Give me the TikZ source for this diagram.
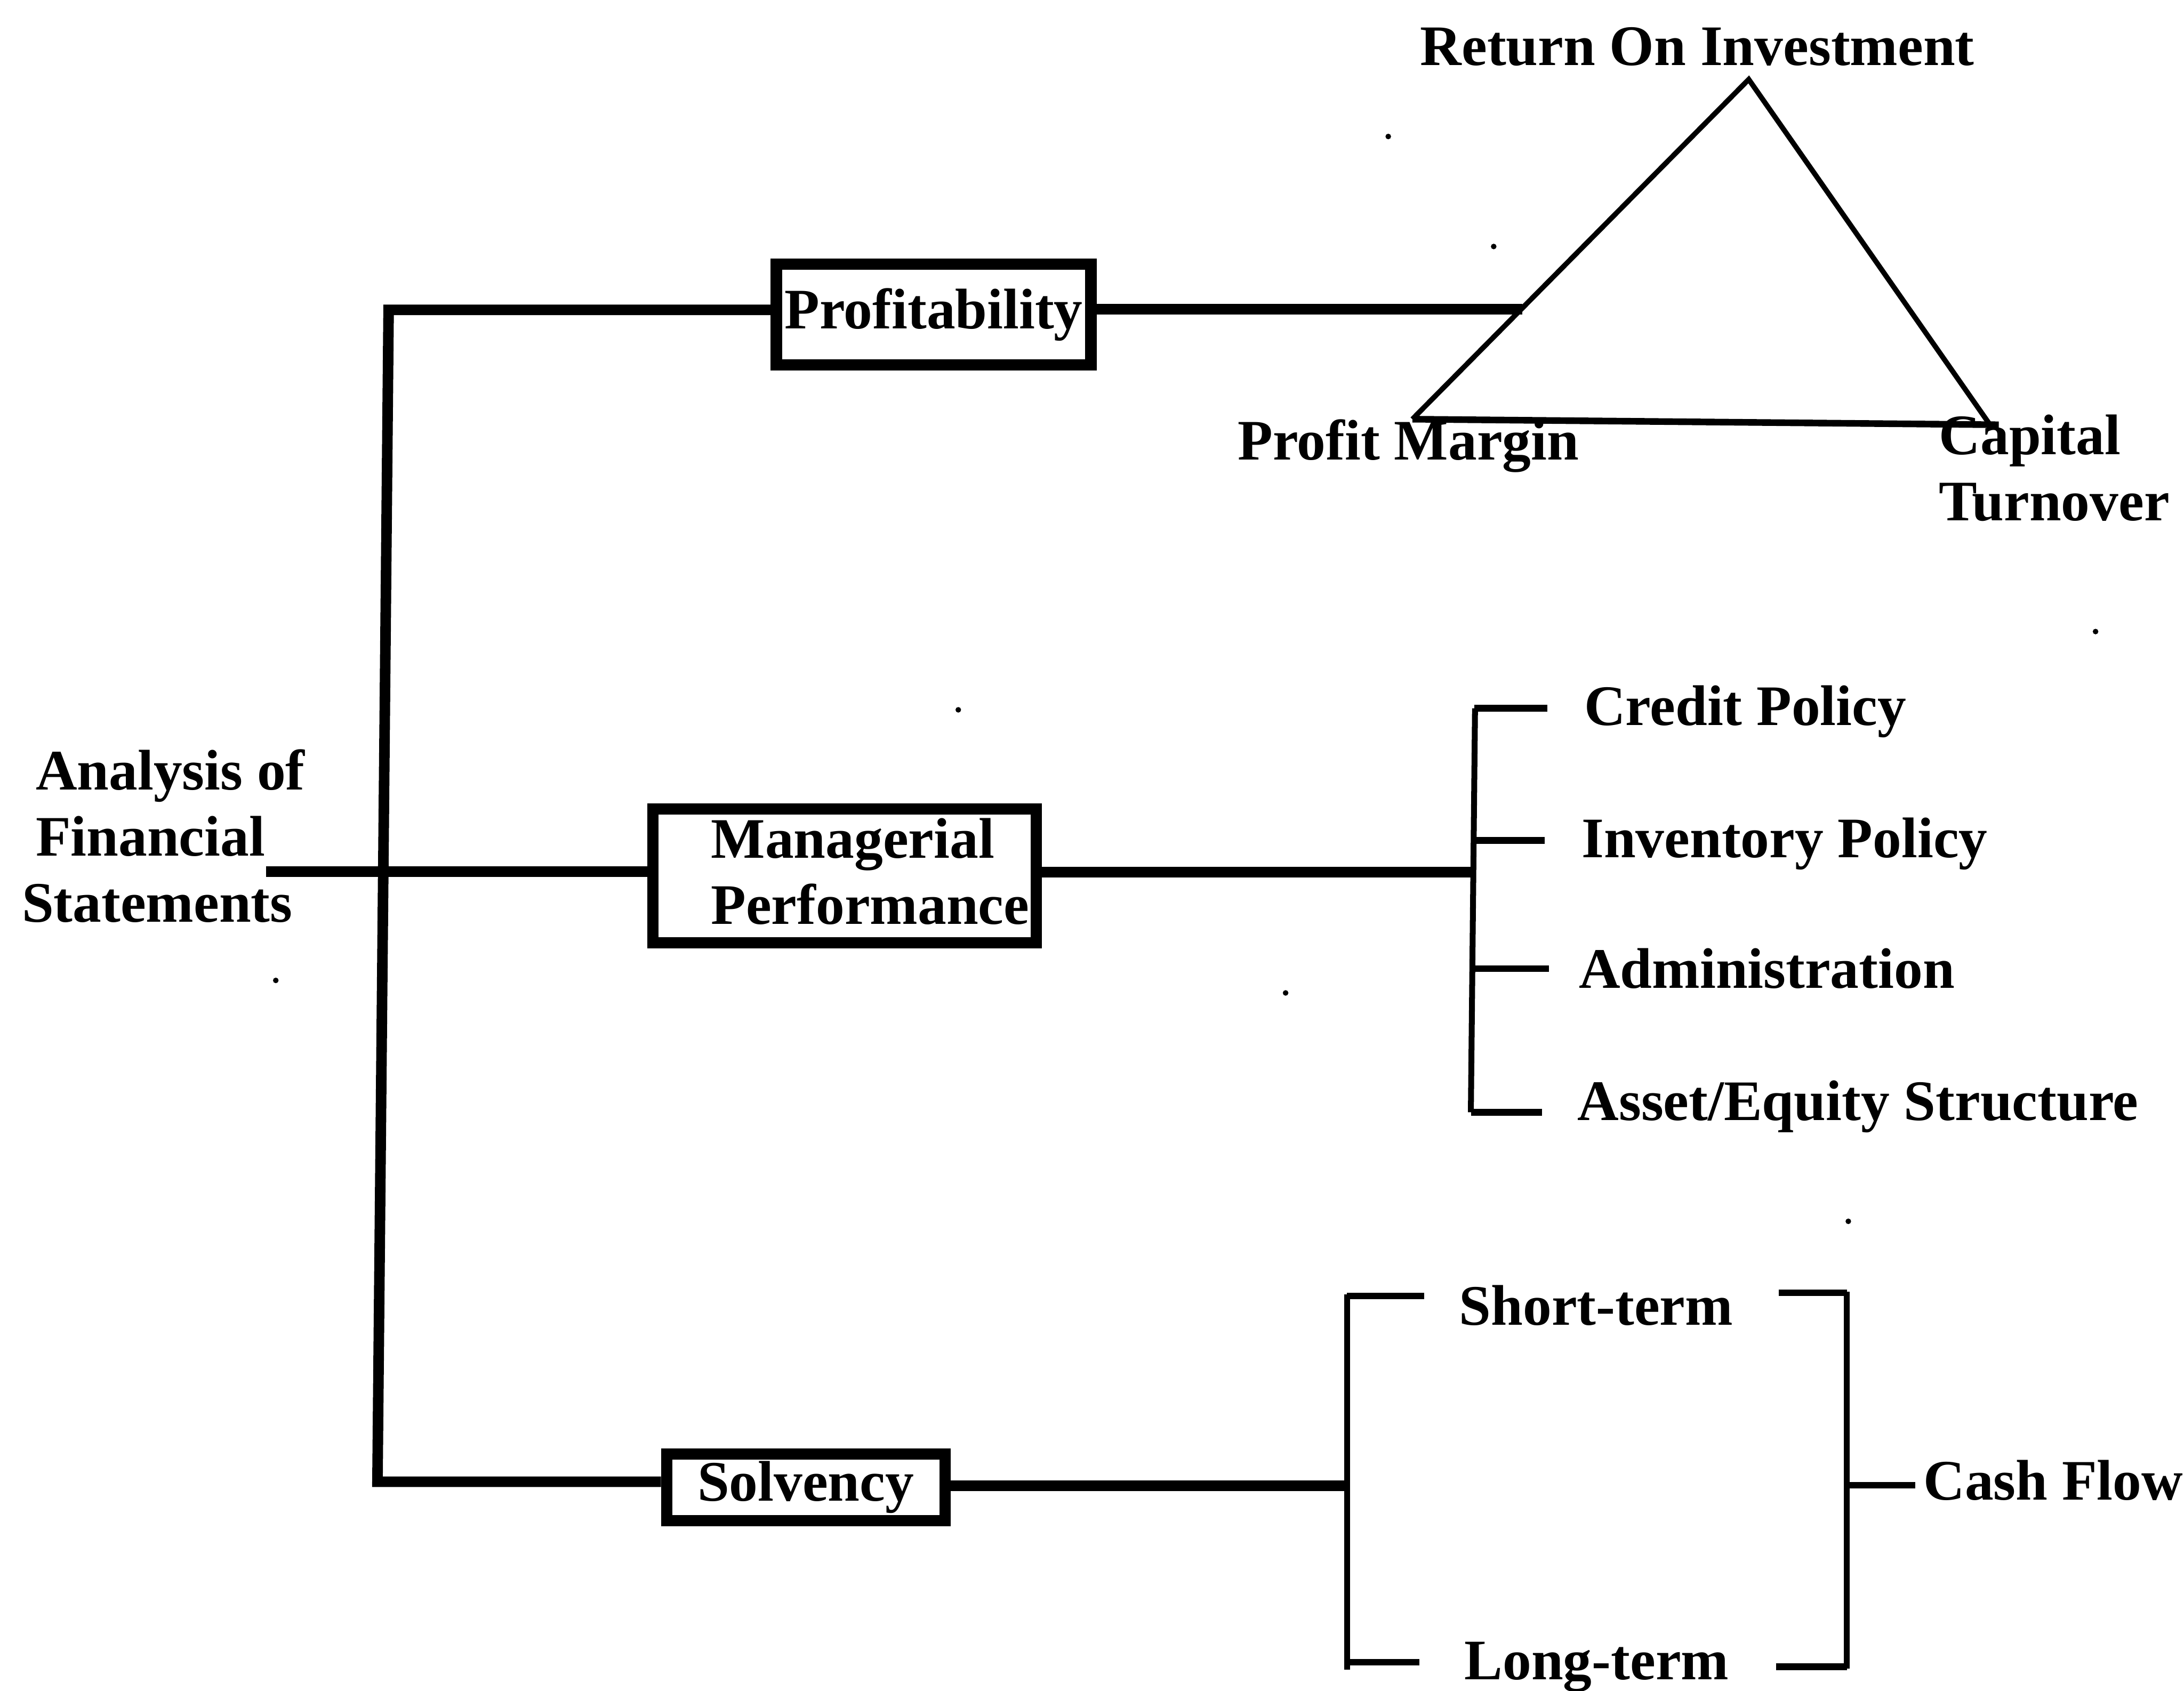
\documentclass[tikz,border=0pt]{standalone}
\usepackage{fontspec}
\setmainfont{Liberation Serif}
\begin{document}
\begin{tikzpicture}[x=0.01cm, y=-0.01cm,
  lbl/.style={inner sep=0pt, font=\fontsize{11.7}{13.5}\selectfont\bfseries},
  boxnode/.style={draw, line width=2.3pt, inner sep=0pt, font=\fontsize{11.7}{13.5}\selectfont\bfseries},
  mainline/.style={line width=2.16pt},
  brace/.style={line width=1.2pt},
  tick/.style={line width=1.35pt},
  tri/.style={line width=1.05pt},
  speck/.style={fill=black}]

% page frame
\path[use as bounding box] (0,0) rectangle (1568,1214);

% ---- labels (multi-line labels are placed by their last baseline) ----
\node[lbl, anchor=base west, align=left] (afs) at (25,662)
  {Analysis of\\Financial\\\hspace*{-0.1cm}Statements};

\node[boxnode, minimum width=225.9*0.01cm, minimum height=72.2*0.01cm] (prof) at (670.3,225.9) {Profitability};
\node[boxnode, minimum width=275.4*0.01cm, minimum height=96.3*0.01cm] (mgrbox) at (606.3,628.9) {};
\node[lbl, anchor=base west, align=left] (mgr) at (509.8,663.6) {Managerial\\Performance};
\node[boxnode, minimum width=199.9*0.01cm, minimum height=48*0.01cm] (solv) at (578.5,1068) {Solvency};

% return on investment triangle
\node[lbl, anchor=base west] (roi) at (1019,47) {Return On Investment};
\node[lbl, anchor=base west] (pm) at (888,330) {Profit Margin};
\node[lbl, anchor=base west, align=left] (ct) at (1391.5,373.7) {Capital\\Turnover};

% managerial performance items
\node[lbl, anchor=base west] (credit) at (1136.7,520.7) {Credit Policy};
\node[lbl, anchor=base west] (inv) at (1134.8,615.8) {Inventory Policy};
\node[lbl, anchor=base west] (adm) at (1132.9,709.4) {Administration};
\node[lbl, anchor=base west] (aes) at (1131.9,804.5) {Asset/Equity Structure};

% solvency items
\node[lbl, anchor=base west] (st) at (1047,951.3) {Short-term};
\node[lbl, anchor=base west] (lt) at (1050.8,1206) {Long-term};
\node[lbl, anchor=base west] (cf) at (1380.3,1077.2) {Cash Flow};

% ---- junction points ----
\coordinate (afsout) at (191,626);
\coordinate (busT) at (279,222.5);
\coordinate (busB) at (271,1064);
\coordinate (apex) at (1255.5,57);
\coordinate (tl) at (1014,301);
\coordinate (tr) at (1428,304);
\coordinate (tbase) at (1435,305);
\coordinate (pjoin) at (1093,222);
\coordinate (mjoin) at (1058.5,626.4);
\coordinate (sjoin) at (967,1067);

% ---- main tree ----
\draw[mainline] (busT -| prof.west) -- (busT) -- (busB) -- (busB -| solv.west);
\draw[mainline] (afsout) -- (afsout -| mgrbox.west);
\draw[mainline] (pjoin -| prof.east) -- (pjoin);
\draw[mainline] (mjoin -| mgrbox.east) -- (mjoin);
\draw[mainline] (sjoin -| solv.east) -- (sjoin);

% triangle
\draw[tri] (tl) -- (apex) -- (tr);
\draw[tick] (tl) -- (tbase);

% managerial bracket
\draw[brace] (1059,508.6) -- (1056,798.7);
\draw[tick] (1058.5,508.6) -- (1111,508.6);
\draw[tick] (1058,603.5) -- (1109,603.5);
\draw[tick] (1057.5,695.6) -- (1112,695.6);
\draw[tick] (1056,798.7) -- (1107,798.7);

% solvency brackets
\draw[brace] (967,929.6) -- (967,1199);
\draw[tick] (967,930.5) -- (1022.5,930.5);
\draw[tick] (967,1193.7) -- (1019,1193.7);
\draw[brace] (1326,927.6) -- (1326,1198);
\draw[tick] (1277,928.4) -- (1326,928.4);
\draw[tick] (1275,1196.8) -- (1326,1196.8);
\draw[tick] (1326,1066.4) -- (1375,1066.4);

% small printed dots
\foreach \px/\py in {996.7/98, 1072.4/177, 1504.5/453.5, 688/509.7, 198/704, 923/713, 1327/877}
  \fill[speck] (\px,\py) circle[radius=0.02cm];
\end{tikzpicture}
\end{document}
